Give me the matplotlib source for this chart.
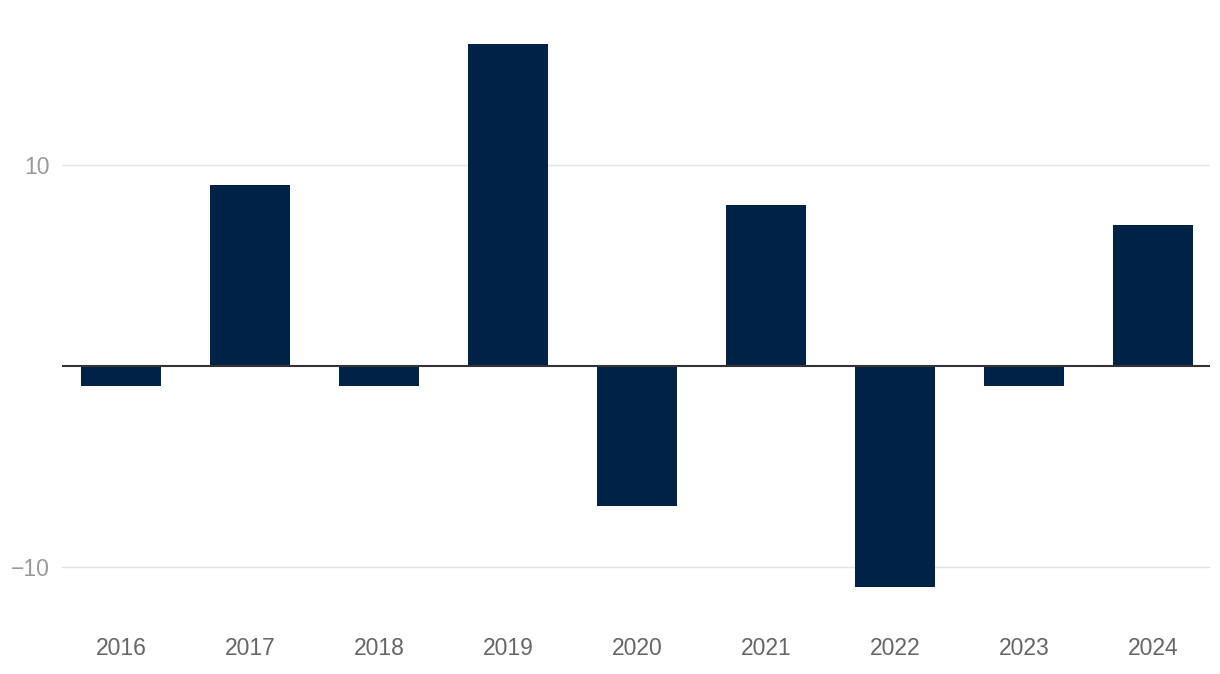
import matplotlib.pyplot as plt

years = ['2016', '2017', '2018', '2019', '2020', '2021', '2022', '2023', '2024']
values = [-1, 9, -1, 16, -7, 8, -11, -1, 7]
y_ticks = [-10, 10]
y_tick_labels = ['\u221210', '10']

plt.rcParams['font.family'] = ['Liberation Sans', 'DejaVu Sans']

fig = plt.figure(figsize=(12.2, 6.74), dpi=100)
ax = fig.add_axes([62 / 1220, 59 / 674, 1148 / 1220, 585 / 674])

x = range(len(years))
ax.bar(x, values, width=0.62, color='#002247', zorder=2)
ax.axhline(0, color='#333333', linewidth=1.5, zorder=3)

ax.set_xlim(-0.46, 8.44)
ax.set_ylim(-12.4, 16.7)
ax.set_yticks(y_ticks)
ax.set_yticklabels(y_tick_labels)
ax.set_xticks(list(x))
ax.set_xticklabels(years)
ax.grid(axis='y', color='#e3e3e3', linewidth=1, zorder=0)

for s in ax.spines.values():
    s.set_visible(False)
ax.tick_params(axis='both', length=0)
ax.tick_params(axis='y', labelsize=16.5, labelcolor='#999999', pad=8.5)
ax.tick_params(axis='x', labelsize=16.5, labelcolor='#666666', pad=16)

fig.savefig('out.png', dpi=100)
